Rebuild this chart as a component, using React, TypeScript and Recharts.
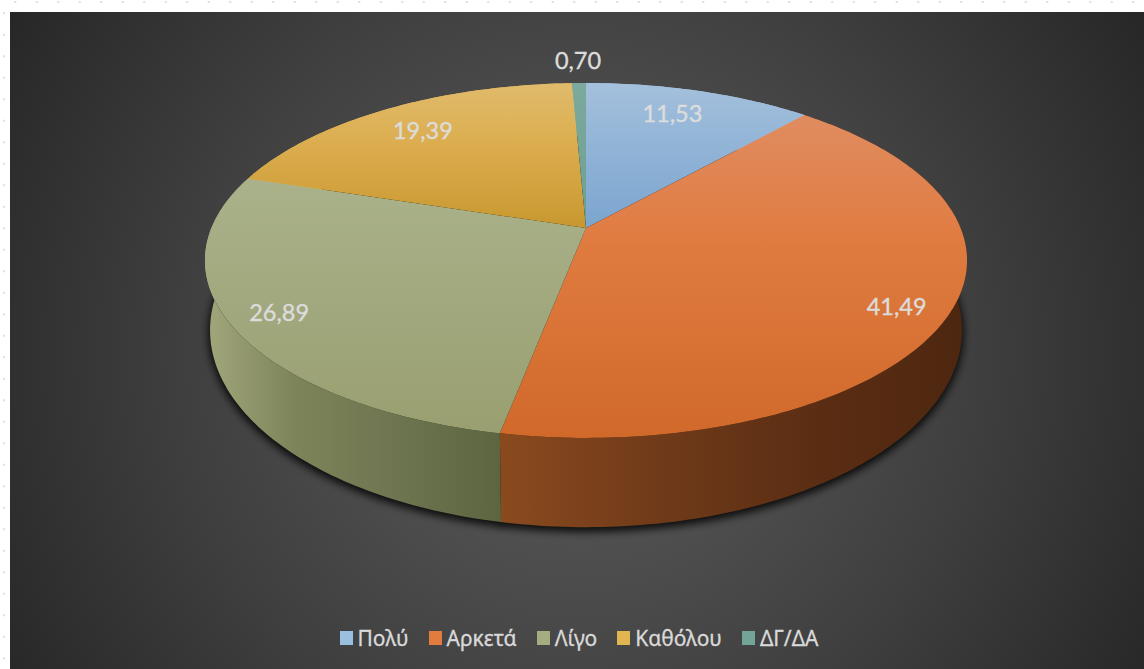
import React from 'react';
import { PieChart, Pie, Legend } from 'recharts';

const categories = ['Πολύ', 'Αρκετά', 'Λίγο', 'Καθόλου', 'ΔΓ/ΔΑ'];
const shares = [11.53, 41.49, 26.89, 19.39, 0.7];
const tickLabels = ['11,53', '41,49', '26,89', '19,39', '0,70'];
const legendColors = ['#9bbfdf', '#e27b3e', '#a4ad80', '#e1b550', '#72a597'];
const faceTop = ['#a4c0dc', '#e08c60', '#aab28b', '#e0bb6c', '#7caa9e'];
const faceMid = ['#93b5d7', '#e07b40', '#a3aa80', '#dcae50', '#76a698'];
const faceBottom = ['#7ba5cf', '#d0692a', '#999f70', '#c8982f', '#6d9f8f'];
const labelReach = [0.79, 0.86, 0.875, 0.8, 1.176];
const labelNudgeX = [-6, 0, 0, 0, 0];
const labelNudgeY = [-3, 8, 0, 0, -2];

const chartData = categories.map((name, i) => ({ name, value: shares[i], fill: legendColors[i], idx: i }));

const K = 0.183;
const FACE = { a: 171.5, b: 374.6, dy: 0 };
const BASE = { a: 190.5, b: 369.6, dy: 66 };

type Proj = { a: number; b: number; dy: number };
const project = (deg: number, reach: number, cx: number, cy: number, p: Proj) => {
  const t = ((90 - deg) * Math.PI) / 180;
  const u = Math.sin(t) * reach;
  const v = Math.cos(t) * reach;
  const w = 1 + K * v;
  return [cx + (p.b * u) / w, cy + p.dy - (p.a * v) / w];
};

const arcPoints = (start: number, end: number, cx: number, cy: number, p: Proj) => {
  const n = Math.max(2, Math.ceil(Math.abs(end - start)));
  const out: number[][] = [];
  for (let i = 0; i <= n; i++) out.push(project(start + ((end - start) * i) / n, 1, cx, cy, p));
  return out;
};
const toD = (pts: number[][]) => pts.map((q, i) => `${i ? 'L' : 'M'}${q[0].toFixed(2)} ${q[1].toFixed(2)}`).join(' ') + ' Z';

const FaceShape = (props: any) => {
  const { cx, cy, startAngle, endAngle, payload, index } = props;
  const i = payload?.idx ?? index;
  const pts = [[cx, cy], ...arcPoints(startAngle, endAngle, cx, cy, FACE)];
  return <path d={toD(pts)} fill={`url(#face${i})`} stroke="none" />;
};

const WallShape = (props: any) => {
  const { cx, cy, startAngle, endAngle, payload, index } = props;
  const i = payload?.idx ?? index;
  const pts = [...arcPoints(startAngle, endAngle, cx, cy, FACE), ...arcPoints(endAngle, startAngle, cx, cy, BASE)];
  const fill = i === 1 ? 'url(#wallOrange)' : i === 2 ? 'url(#wallGreen)' : legendColors[i];
  return <path d={toD(pts)} fill={fill} stroke="none" />;
};

const ShadowShape = (props: any) => {
  const { cx, cy, startAngle, endAngle } = props;
  const pts = [[cx, cy + BASE.dy], ...arcPoints(startAngle, endAngle, cx, cy, BASE)];
  return <path d={toD(pts)} fill="#000" stroke="#000" strokeWidth={3} fillOpacity={0.85} strokeOpacity={0.85} transform="translate(0 3)" filter="url(#pieShadow)" />;
};

const renderLabel = (props: any) => {
  const { cx, cy, midAngle, index } = props;
  const [x, y] = project(midAngle, labelReach[index], cx, cy, FACE);
  return (
    <text
      x={x + labelNudgeX[index]}
      y={y + labelNudgeY[index]}
      fill="#dcdcdc"
      stroke="#dcdcdc"
      strokeWidth={0.35}
      fontSize={23.5}
      fontFamily="Lato, 'Noto Sans', sans-serif"
      textAnchor="middle"
      dominantBaseline="central"
    >
      {tickLabels[index]}
    </text>
  );
};

const renderLegend = () => (
  <div style={{ display: 'flex', justifyContent: 'center', alignItems: 'center', height: 24, whiteSpace: 'nowrap', paddingLeft: 4 }}>
    {categories.map((name, i) => (
      <div key={name} style={{ display: 'flex', alignItems: 'center', marginLeft: i ? 20 : 0 }}>
        <span style={{ width: 13, height: 14, background: legendColors[i], marginRight: 5, display: 'inline-block' }} />
        <span style={{ color: '#d9d9d9', fontSize: 21, fontFamily: "'Noto Sans', sans-serif", lineHeight: '24px', WebkitTextStroke: '0.3px #d9d9d9' }}>{name}</span>
      </div>
    ))}
  </div>
);

export default function App() {
  return (
    <div
      style={{
        position: 'absolute',
        left: 0,
        top: 0,
        width: 1144,
        height: 669,
        overflow: 'hidden',
        backgroundColor: '#fff',
        backgroundImage:
          'radial-gradient(circle 1.6px, #ecdcd8 60%, transparent 100%), radial-gradient(circle 1.6px, #ecdcd8 60%, transparent 100%)',
        backgroundSize: '21.5px 6px, 6px 21.5px',
        backgroundPosition: '4.5px -1px, 1px 2.5px',
        backgroundRepeat: 'repeat-x, repeat-y',
      }}
    >
      <div
        style={{
          position: 'absolute',
          left: 10,
          top: 12,
          width: 1134,
          height: 657,
          background: 'radial-gradient(circle farthest-corner at 50% 52%, #5c5c5c 0%, #4c4c4c 35%, #3f3f3f 60%, #272727 100%)',
        }}
      >
        <PieChart width={1134} height={657} margin={{ top: 0, right: 0, bottom: 0, left: 0 }}>
          <defs>
            <filter id="pieShadow" x="-10%" y="-10%" width="120%" height="120%">
              <feGaussianBlur stdDeviation="4" />
            </filter>
            {categories.map((c, i) => (
              <linearGradient key={c} id={`face${i}`} x1="0" y1="0" x2="0" y2="1">
                <stop offset="0%" stopColor={faceTop[i]} />
                <stop offset="40%" stopColor={faceMid[i]} />
                <stop offset="100%" stopColor={faceBottom[i]} />
              </linearGradient>
            ))}
            <linearGradient id="wallOrange" gradientUnits="userSpaceOnUse" x1="490" y1="0" x2="952" y2="0">
              <stop offset="0%" stopColor="#8a4a1e" />
              <stop offset="35%" stopColor="#6f3a19" />
              <stop offset="70%" stopColor="#5a2d13" />
              <stop offset="100%" stopColor="#4e2710" />
            </linearGradient>
            <linearGradient id="wallGreen" gradientUnits="userSpaceOnUse" x1="195" y1="0" x2="492" y2="0">
              <stop offset="0%" stopColor="#a2a87c" />
              <stop offset="30%" stopColor="#7e8459" />
              <stop offset="65%" stopColor="#6d7450" />
              <stop offset="100%" stopColor="#5d6540" />
            </linearGradient>
          </defs>
          <Pie data={chartData} dataKey="value" nameKey="name" cx={576} cy={216} outerRadius={180} startAngle={90} endAngle={-270} stroke="none" legendType="none" isAnimationActive={false} shape={ShadowShape} label={false} labelLine={false} />
          <Pie data={chartData} dataKey="value" nameKey="name" cx={576} cy={216} outerRadius={180} startAngle={90} endAngle={-270} stroke="none" legendType="none" isAnimationActive={false} shape={WallShape} label={false} labelLine={false} />
          <Pie data={chartData} dataKey="value" nameKey="name" cx={576} cy={216} outerRadius={180} startAngle={90} endAngle={-270} stroke="none" isAnimationActive={false} shape={FaceShape} label={renderLabel} labelLine={false} />
          <Legend content={renderLegend} wrapperStyle={{ position: 'absolute', left: 0, top: 614, width: 1134 }} />
        </PieChart>
      </div>
    </div>
  );
}
